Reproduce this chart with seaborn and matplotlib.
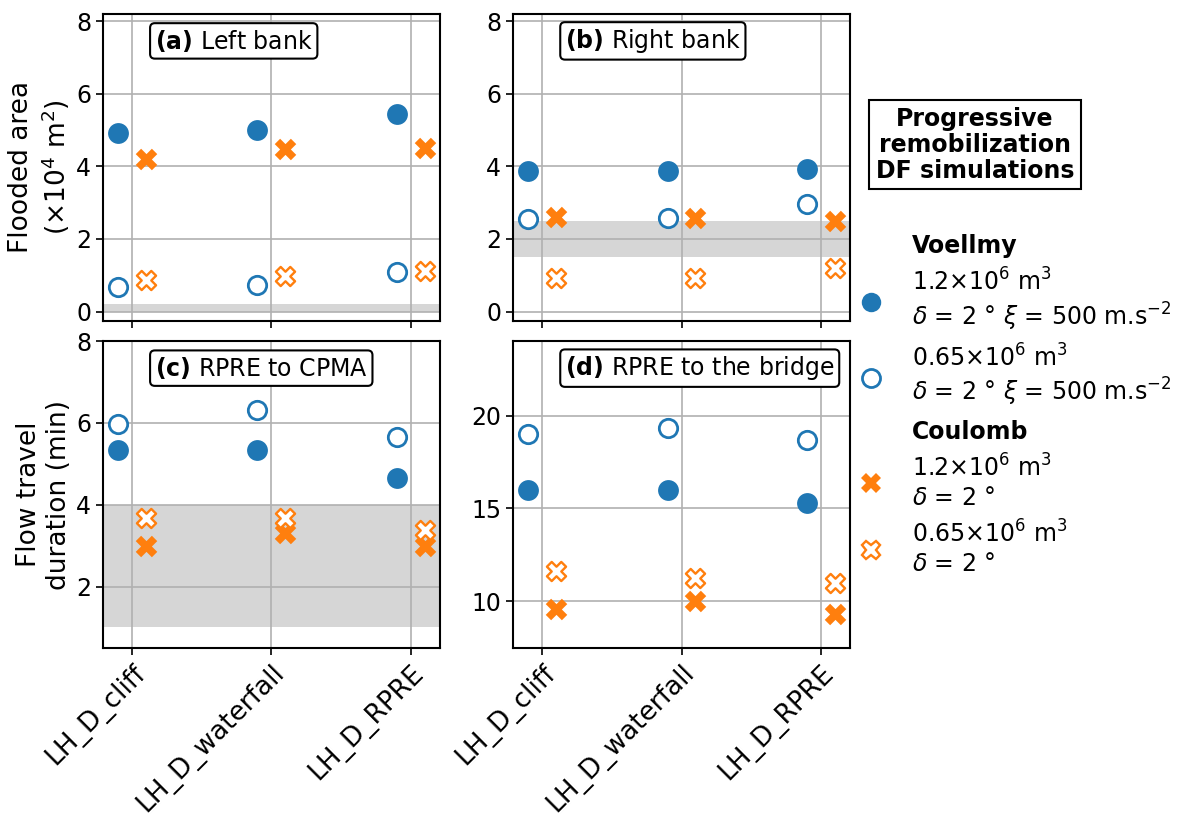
import matplotlib
matplotlib.use("Agg")
import matplotlib.pyplot as plt
from matplotlib.lines import Line2D
import numpy as np
import pandas as pd
import seaborn as sns

# Categories (release scenarios)
cats = ["LH_D_cliff", "LH_D_waterfall", "LH_D_RPRE"]

# (a) flooded area, left bank (x10^4 m2)
left_v12 = [4.92, 5.00, 5.44]
left_v065 = [0.68, 0.74, 1.09]
left_c12 = [4.21, 4.48, 4.51]
left_c065 = [0.87, 0.98, 1.12]
left_obs = [0.0, 0.2]

# (b) flooded area, right bank (x10^4 m2)
right_v12 = [3.88, 3.88, 3.93]
right_v065 = [2.54, 2.57, 2.95]
right_c12 = [2.60, 2.57, 2.49]
right_c065 = [0.93, 0.93, 1.20]
right_obs = [1.5, 2.5]

# (c) travel duration RPRE -> CPMA (min)
cpma_v12 = [5.33, 5.33, 4.66]
cpma_v065 = [5.98, 6.32, 5.66]
cpma_c12 = [3.00, 3.32, 2.98]
cpma_c065 = [3.68, 3.68, 3.37]
cpma_obs = [1.0, 4.0]

# (d) travel duration RPRE -> bridge (min)
bridge_v12 = [16.0, 16.0, 15.3]
bridge_v065 = [19.0, 19.32, 18.66]
bridge_c12 = [9.6, 10.0, 9.3]
bridge_c065 = [11.63, 11.27, 10.97]

blue = "#1f77b4"
orange = "#ff7f0e"
FS = 17
FS_BIG = 19

# style for each series: (marker, face, edge, offset, size, lw)
styles = {
    "v12": ("o", blue, blue, -0.1, 225, 0),
    "v065": ("o", "white", blue, -0.1, 175, 2.0),
    "c12": ("X", orange, orange, 0.1, 240, 0),
    "c065": ("X", "white", orange, 0.1, 190, 1.7),
}

fig, axes = plt.subplots(2, 2, figsize=(11.83, 8.18), dpi=100, sharex=True)
fig.subplots_adjust(left=0.087, right=0.7185, top=0.983, bottom=0.208,
                    wspace=0.2175, hspace=0.067)


def draw_panel(ax, series, band, title, ylim):
    ax.grid(True, color="#b0b0b0", lw=1.2, zorder=0)
    ax.set_axisbelow(True)
    if band is not None:
        ax.axhspan(band[0], band[1], color="#d6d6d6", lw=0, zorder=0.5)
    for key, vals in series.items():
        marker, fc, ec, off, s, lw = styles[key]
        df = pd.DataFrame({"x": np.arange(len(cats)) + off, "y": vals})
        sns.scatterplot(data=df, x="x", y="y", ax=ax, marker=marker, s=s,
                        color=fc, edgecolor=ec, linewidth=lw, zorder=3,
                        legend=False)
    ax.set_xlim(-0.21, 2.21)
    ax.set_ylim(*ylim)
    ax.set_xlabel("")
    ax.set_ylabel("")
    ax.text(0.154, 0.912, title, transform=ax.transAxes, fontsize=FS,
            va="center", ha="left",
            bbox=dict(boxstyle="round,pad=0.2", fc="white", ec="black", lw=1.5))
    for sp in ax.spines.values():
        sp.set_linewidth(1.5)
    ax.tick_params(labelsize=FS, width=1.2, length=5)


draw_panel(axes[0, 0], {"v12": left_v12, "v065": left_v065, "c12": left_c12, "c065": left_c065},
           left_obs, r"$\bf{(a)}$ Left bank", (-0.25, 8.2))
draw_panel(axes[0, 1], {"v12": right_v12, "v065": right_v065, "c12": right_c12, "c065": right_c065},
           right_obs, r"$\bf{(b)}$ Right bank", (-0.25, 8.2))
draw_panel(axes[1, 0], {"v12": cpma_v12, "v065": cpma_v065, "c12": cpma_c12, "c065": cpma_c065},
           cpma_obs, r"$\bf{(c)}$ RPRE to CPMA", (0.5, 8.0))
draw_panel(axes[1, 1], {"v12": bridge_v12, "v065": bridge_v065, "c12": bridge_c12, "c065": bridge_c065},
           None, r"$\bf{(d)}$ RPRE to the bridge", (7.5, 24))

for ax in axes[0]:
    ax.set_yticks([0, 2, 4, 6, 8])
axes[1, 0].set_yticks([2, 4, 6, 8])
axes[1, 1].set_yticks([10, 15, 20])

axes[0, 0].set_ylabel("Flooded area\n(×10$^4$ m$^2$)", fontsize=FS_BIG, labelpad=3)
axes[1, 0].set_ylabel("Flow travel\nduration (min)", fontsize=FS_BIG, labelpad=3)

for ax in axes[1]:
    ax.set_xticks(range(len(cats)))
    ax.set_xticklabels(cats, rotation=45, ha="right", rotation_mode="anchor", fontsize=FS_BIG)

# legend block on the right
fig.text(0.824, 0.823, "Progressive\nremobilization\nDF simulations", fontsize=FS,
         fontweight="bold", ha="center", va="center", linespacing=1.1,
         bbox=dict(boxstyle="square,pad=0.28", fc="white", ec="black", lw=1.5))

blank = Line2D([], [], linestyle="none", marker="none")
handles = [
    blank,
    Line2D([], [], ls="none", marker="o", ms=14, mfc=blue, mec=blue, mew=0),
    Line2D([], [], ls="none", marker="o", ms=13, mfc="white", mec=blue, mew=2.0),
    blank,
    Line2D([], [], ls="none", marker="X", ms=14, mfc=orange, mec=orange, mew=0),
    Line2D([], [], ls="none", marker="X", ms=13, mfc="white", mec=orange, mew=1.7),
]
labels = [
    "Voellmy",
    "1.2$\\times$10$^6$ m$^3$\n$\\delta$ = 2 ° $\\xi$ = 500 m.s$^{-2}$",
    "0.65$\\times$10$^6$ m$^3$\n$\\delta$ = 2 ° $\\xi$ = 500 m.s$^{-2}$",
    "Coulomb",
    "1.2$\\times$10$^6$ m$^3$\n$\\delta$ = 2 °",
    "0.65$\\times$10$^6$ m$^3$\n$\\delta$ = 2 °",
]
leg = fig.legend(handles, labels, loc="upper left", bbox_to_anchor=(0.714, 0.726),
                 frameon=False, fontsize=FS, handlelength=1.4, handletextpad=1.05,
                 labelspacing=0.47, borderaxespad=0)
for t in leg.get_texts():
    if t.get_text() in ("Voellmy", "Coulomb"):
        t.set_fontweight("bold")

fig.savefig("out.png", dpi=100)
